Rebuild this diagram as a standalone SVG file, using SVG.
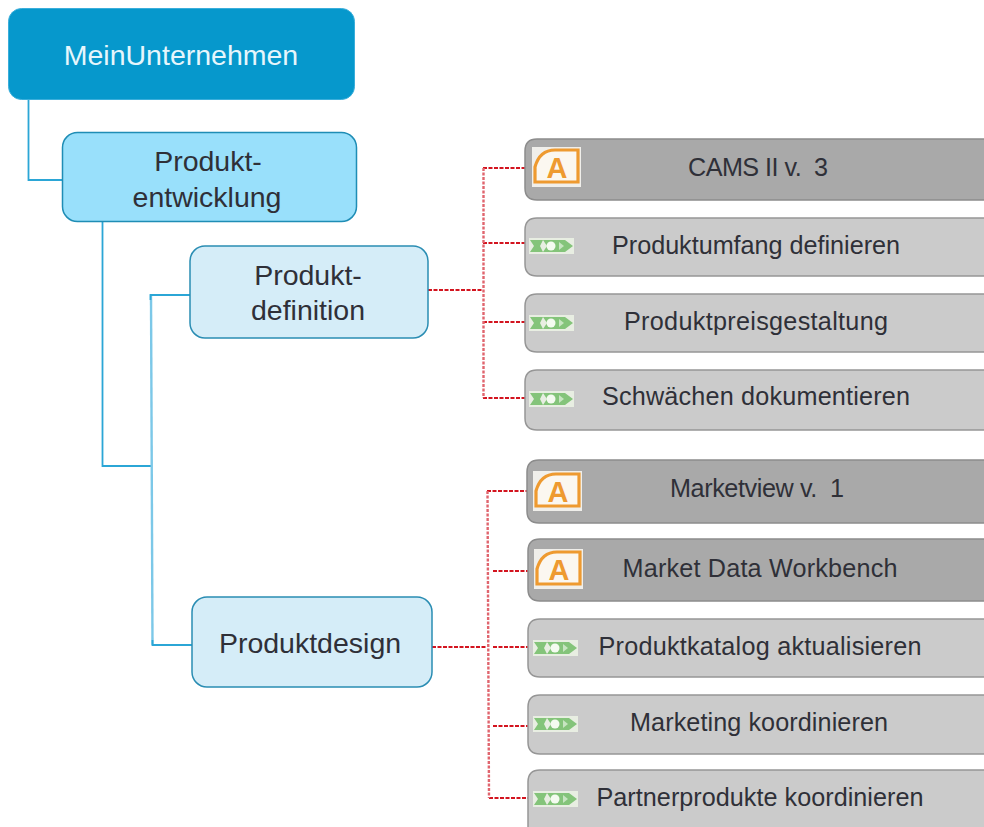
<svg xmlns="http://www.w3.org/2000/svg" width="984" height="827" viewBox="0 0 984 827">
<style>
text{font-family:"Liberation Sans",Arial,sans-serif;text-anchor:middle;fill:#2f3038;white-space:pre}
.t1{font-size:28.500px}.t2{font-size:25.200px}
.lb{fill:none;stroke:#2ba6d6;stroke-width:1.800}
.lbf{fill:none;stroke:#7cc8e8;stroke-width:2.400}
.lr{fill:none;stroke:#d3141f;stroke-width:1.800;stroke-dasharray:4 1.500}
.lrf{fill:none;stroke:#e0656e;stroke-width:2.400;stroke-dasharray:3 1.500}
.root{fill:#0698cc;stroke:#3aaedb;stroke-width:1}
.l1{fill:#99e0fb;stroke:#1f8db5;stroke-width:1.500}
.l2{fill:#d5edf8;stroke:#2a8db3;stroke-width:1.500}
.app{fill:#a9a9a9;stroke:#8c8c8c;stroke-width:1.500}
.act{fill:#cbcbcb;stroke:#969696;stroke-width:1.500}
.ibg{fill:#f0efeb}.ia{fill:#fbf7f0;stroke:#ee9a30;stroke-width:3.200}
.ial{font-size:29px;font-weight:bold;fill:#ee9a30}
.gbg{fill:#e8eee2}.g{fill:#84c47a}.gw{fill:#f4fbf0}
</style>
<defs>
<g id="a"><rect x="0" y="0" width="49" height="40" class="ibg"/><path d="M3 35V20C6 9 13 3 23 3H46V35Z" class="ia"/><text x="25" y="31" class="ial">A</text></g>
<g id="x"><rect x="0" y="0" width="45" height="16" class="gbg"/><path d="M1 2H14L11 8L14 14H1L5 8Z" class="g"/><path d="M14 2H36L44 8L36 14H14L18 8Z" class="g"/><circle cx="22" cy="8" r="4.500" class="gw"/><path d="M30 4L35 8L30 12Z" class="gw" opacity=".6"/></g>
</defs>
<g id="connectors">
<path class="lb" d="M28.500 99V180H66"/>
<path class="lb" d="M102.500 222V466H151"/>
<path class="lbf" d="M151 295L152.500 645"/>
<path class="lb" d="M190 295H150.500V300M152.500 640V645H192"/>
<path class="lr" d="M428 290H483M483 168H525M483 243H525M483 322H525M483 398H525"/>
<path class="lrf" d="M483.500 168V398"/>
<path class="lr" d="M432 647H486M493 647H528M487 491H527M493 571H528M493 726H528M489 798H528"/>
<path class="lrf" d="M487.500 491L489 798"/>
</g>
<g id="n-root"><rect class="root" x="8.500" y="8.500" width="346" height="91" rx="13"/><text x="181" y="65" class="t1" style="fill:#e6f6fc">MeinUnternehmen</text></g>
<g id="n-entwicklung"><rect class="l1" x="62.500" y="132.500" width="294" height="89" rx="15"/><text x="208" y="171" class="t1">Produkt-</text><text x="207" y="207" class="t1">entwicklung</text></g>
<g id="n-definition"><rect class="l2" x="190" y="246" width="238" height="92" rx="15"/><text x="308" y="285" class="t1">Produkt-</text><text x="308" y="320" class="t1">definition</text></g>
<g id="n-design"><rect class="l2" x="192" y="597" width="240" height="90" rx="15"/><text x="310" y="653" class="t1">Produktdesign</text></g>
<g id="n-cams"><path class="app" d="M990 139H537Q525 139 525 151V188Q525 200 537 200H990Z"/><use href="#a" transform="translate(532 147)"/><text x="758" y="176" class="t2" textLength="140">CAMS II v.  3</text></g>
<g id="n-umfang"><path class="act" d="M990 218H537Q525 218 525 230V264Q525 276 537 276H990Z"/><use href="#x" transform="translate(529 238)"/><text x="756" y="254" class="t2" textLength="288">Produktumfang definieren</text></g>
<g id="n-preis"><path class="act" d="M990 294H537Q525 294 525 306V340Q525 352 537 352H990Z"/><use href="#x" transform="translate(529 315)"/><text x="756" y="330" class="t2" textLength="264">Produktpreisgestaltung</text></g>
<g id="n-schwaechen"><path class="act" d="M990 370H537Q525 370 525 382V418Q525 430 537 430H990Z"/><use href="#x" transform="translate(529 391)"/><text x="756" y="405" class="t2" textLength="308">Schwächen dokumentieren</text></g>
<g id="n-marketview"><path class="app" d="M990 460H539Q527 460 527 472V511Q527 523 539 523H990Z"/><use href="#a" transform="translate(533 471)"/><text x="757" y="497" class="t2" textLength="174">Marketview v.  1</text></g>
<g id="n-workbench"><path class="app" d="M990 539H540Q528 539 528 551V589Q528 601 540 601H990Z"/><use href="#a" transform="translate(534 549)"/><text x="760" y="577" class="t2" textLength="275">Market Data Workbench</text></g>
<g id="n-katalog"><path class="act" d="M990 619H540Q528 619 528 631V665Q528 677 540 677H990Z"/><use href="#x" transform="translate(533 640)"/><text x="760" y="655" class="t2" textLength="323">Produktkatalog aktualisieren</text></g>
<g id="n-marketing"><path class="act" d="M990 695H540Q528 695 528 707V742Q528 754 540 754H990Z"/><use href="#x" transform="translate(533 716)"/><text x="759" y="731" class="t2" textLength="258">Marketing koordinieren</text></g>
<g id="n-partner"><path class="act" d="M990 770H540Q528 770 528 782V835H990Z"/><use href="#x" transform="translate(533 791)"/><text x="760" y="806" class="t2" textLength="327">Partnerprodukte koordinieren</text></g>
</svg>
